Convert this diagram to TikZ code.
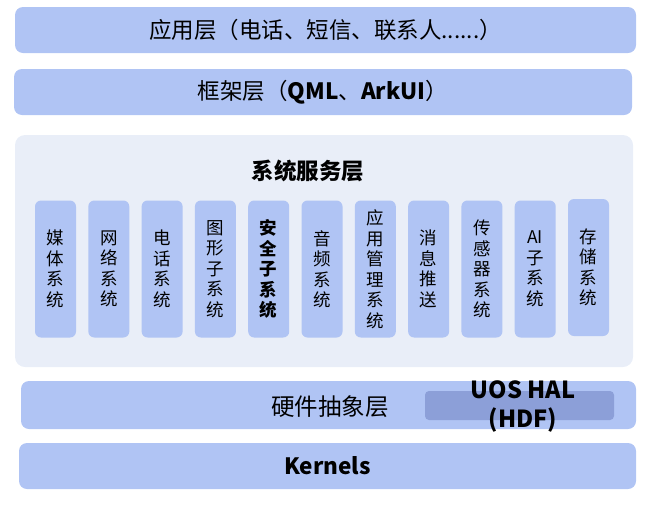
\documentclass[tikz,border=0pt]{standalone}
\usepackage{fontspec}
\setmainfont{Noto Sans CJK SC}
\usepackage{tikz}
\usetikzlibrary{positioning}
\definecolor{layerblue}{RGB}{176,196,244}
\definecolor{halblue}{RGB}{140,159,216}
\definecolor{svcbg}{RGB}{233,238,248}
\tikzset{
  layerbox/.style={rectangle, fill=layerblue, rounded corners=8pt, inner sep=0pt, font=\fontsize{22.5}{26}\selectfont},
  svcbox/.style={rectangle, fill=svcbg, rounded corners=10pt, inner sep=0pt},
  colbox/.style={rectangle, fill=layerblue, rounded corners=6pt, minimum width=41pt, minimum height=137pt, inner sep=0pt, align=center, font=\fontsize{17.5}{20.5}\selectfont},
}
\begin{document}
\begin{tikzpicture}[x=1pt, y=-1pt]
  \useasboundingbox (0,0) rectangle (648,504);

  % top layers
  \node[layerbox, minimum width=621pt, minimum height=46pt] (app) at (325.5,30) {应用层（电话、短信、联系人......）};
  \node[layerbox, minimum width=618pt, minimum height=46pt] (frame) at (323,92) {框架层（\textbf{QML}、\textbf{ArkUI}）};

  % system services
  \node[svcbox, minimum width=618pt, minimum height=232pt] (sys) at (324,251) {};
  \node[font=\fontsize{22.5}{26}\selectfont\bfseries] (systitle) at (308,171) {系统服务层};

  \foreach \i/\txt in {1/{媒\\体\\系\\统}, 2/{网\\络\\系\\统}, 3/{电\\话\\系\\统},
      4/{图\\形\\子\\系\\统}, 5/{\textbf{安}\\\textbf{全}\\\textbf{子}\\\textbf{系}\\\textbf{统}},
      6/{音\\频\\系\\统}, 7/{应\\用\\管\\理\\系\\统}, 8/{消\\息\\推\\送},
      9/{传\\感\\器\\系\\统}, 10/{AI\\子\\系\\统}} {
    \node[colbox] (col\i) at ({55.5+(\i-1)*53.3},269) {\txt};
  }
  \node[colbox] (col11) at (588.5,267.5) {存\\储\\系\\统};

  % hardware abstraction
  \node[layerbox, minimum width=615pt, minimum height=48pt] (hal) at (328.5,405) {};
  \node[font=\fontsize{23.5}{26}\selectfont] (haltext) at (330,407) {硬件抽象层};
  \node[rectangle, fill=halblue, rounded corners=4pt, minimum width=189pt, minimum height=29pt, inner sep=0pt] (hdf) at (519.5,405.5) {};
  \node[align=center, font=\fontsize{23.5}{29}\selectfont\bfseries] (hdftext) at (523,406) {UOS HAL\\(HDF)};

  % kernel
  \node[layerbox, minimum width=617pt, minimum height=46pt] (kernel) at (327.5,466) {\textbf{Kernels}};
\end{tikzpicture}
\end{document}
